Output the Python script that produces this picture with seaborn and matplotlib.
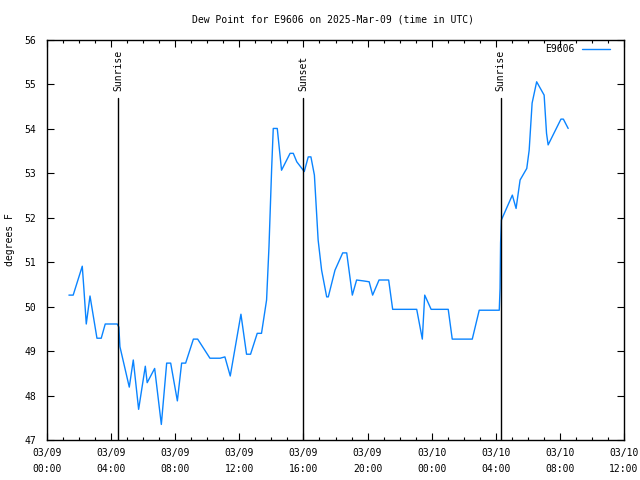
import matplotlib
matplotlib.use("Agg")
import matplotlib.pyplot as plt
import matplotlib.dates as mdates
import pandas as pd
import seaborn as sns

title = "Dew Point for E9606 on 2025-Mar-09 (time in UTC)"
station = "E9606"
ylabel = "degrees F"

times = [
    "2025-03-09 01:22", "2025-03-09 01:38", "2025-03-09 02:12", "2025-03-09 02:18",
    "2025-03-09 02:27", "2025-03-09 02:41", "2025-03-09 03:07", "2025-03-09 03:23",
    "2025-03-09 03:38", "2025-03-09 04:23", "2025-03-09 04:29", "2025-03-09 04:33",
    "2025-03-09 05:08", "2025-03-09 05:23", "2025-03-09 05:43", "2025-03-09 06:08",
    "2025-03-09 06:15", "2025-03-09 06:43", "2025-03-09 07:08", "2025-03-09 07:28",
    "2025-03-09 07:43", "2025-03-09 08:08", "2025-03-09 08:24", "2025-03-09 08:39",
    "2025-03-09 09:08", "2025-03-09 09:24", "2025-03-09 10:10", "2025-03-09 10:48",
    "2025-03-09 11:06", "2025-03-09 11:26", "2025-03-09 12:06", "2025-03-09 12:27",
    "2025-03-09 12:42", "2025-03-09 13:07", "2025-03-09 13:23", "2025-03-09 13:42",
    "2025-03-09 13:51", "2025-03-09 14:01", "2025-03-09 14:07", "2025-03-09 14:22",
    "2025-03-09 14:38", "2025-03-09 15:10", "2025-03-09 15:22", "2025-03-09 15:35",
    "2025-03-09 16:03", "2025-03-09 16:18", "2025-03-09 16:28", "2025-03-09 16:41",
    "2025-03-09 16:55", "2025-03-09 17:08", "2025-03-09 17:27", "2025-03-09 17:33",
    "2025-03-09 17:58", "2025-03-09 18:27", "2025-03-09 18:42", "2025-03-09 19:03",
    "2025-03-09 19:19", "2025-03-09 19:44", "2025-03-09 20:06", "2025-03-09 20:19",
    "2025-03-09 20:43", "2025-03-09 21:19", "2025-03-09 21:34", "2025-03-09 23:04",
    "2025-03-09 23:25", "2025-03-09 23:34", "2025-03-09 23:58", "2025-03-10 01:02",
    "2025-03-10 01:17", "2025-03-10 02:32", "2025-03-10 02:58", "2025-03-10 04:13",
    "2025-03-10 04:16", "2025-03-10 04:18", "2025-03-10 04:21", "2025-03-10 05:02",
    "2025-03-10 05:16", "2025-03-10 05:31", "2025-03-10 05:56", "2025-03-10 06:05",
    "2025-03-10 06:16", "2025-03-10 06:33", "2025-03-10 07:01", "2025-03-10 07:10",
    "2025-03-10 07:16", "2025-03-10 08:04", "2025-03-10 08:13", "2025-03-10 08:31",
]
dewpoint = [
    50.26, 50.26, 50.91, 50.41, 49.61, 50.24, 49.29, 49.29,
    49.61, 49.61, 49.54, 49.10, 48.19, 48.80, 47.69, 48.66,
    48.29, 48.61, 47.35, 48.73, 48.73, 47.88, 48.73, 48.73,
    49.27, 49.27, 48.84, 48.84, 48.87, 48.44, 49.83, 48.93,
    48.93, 49.40, 49.40, 50.15, 51.35, 53.11, 54.01, 54.01,
    53.07, 53.45, 53.45, 53.26, 53.04, 53.37, 53.37, 52.96,
    51.50, 50.82, 50.22, 50.22, 50.82, 51.21, 51.21, 50.26,
    50.60, 50.58, 50.56, 50.26, 50.60, 50.60, 49.94, 49.94,
    49.27, 50.26, 49.94, 49.94, 49.27, 49.27, 49.92, 49.92,
    50.41, 51.43, 51.95, 52.51, 52.21, 52.85, 53.11, 53.52,
    54.58, 55.06, 54.76, 53.90, 53.64, 54.22, 54.22, 54.01,
]

sun_labels = ["Sunrise", "Sunset", "Sunrise"]
sun_times = ["2025-03-09 04:26", "2025-03-09 16:00", "2025-03-10 04:19"]

x_start = "2025-03-09 00:00"
x_end = "2025-03-10 12:00"
y_min, y_max = 47, 56

df = pd.DataFrame({"time": pd.to_datetime(times), "dewpoint": dewpoint})

sns.set_theme(style="white")
plt.rcParams["font.family"] = ["DejaVu Sans Mono"]
plt.rcParams["font.size"] = 7
plt.rcParams["text.color"] = "black"
plt.rcParams["xtick.color"] = "black"
plt.rcParams["ytick.color"] = "black"
plt.rcParams["axes.labelcolor"] = "black"

fig = plt.figure(figsize=(6.4, 4.8), dpi=100)
ax = fig.add_axes([47 / 640, 40 / 480, 577 / 640, 400 / 480])

sns.lineplot(data=df, x="time", y="dewpoint", ax=ax, color="#0a84ff",
             linewidth=1.0, label=station)

for lab, t in zip(sun_labels, sun_times):
    tt = mdates.date2num(pd.Timestamp(t))
    ax.axvline(tt, ymin=0, ymax=0.855, color="black", linewidth=1.0)
    ax.text(tt, 0.872, lab, rotation=90, ha="center", va="bottom",
            transform=ax.get_xaxis_transform(), fontsize=7, color="black")

ax.set_xlim(pd.Timestamp(x_start), pd.Timestamp(x_end))
ax.set_ylim(y_min, y_max)
ax.set_yticks(range(y_min, y_max + 1))
ax.xaxis.set_major_locator(mdates.HourLocator(byhour=range(0, 24, 4)))
ax.xaxis.set_minor_locator(mdates.HourLocator())
ax.xaxis.set_major_formatter(mdates.DateFormatter("%m/%d\n%H:%M"))

ax.tick_params(axis="both", which="major", direction="in", length=5, width=0.8,
               top=True, right=True, bottom=True, left=True, labelsize=7,
               color="black", labelcolor="black")
ax.tick_params(axis="x", which="minor", direction="in", length=2.5, width=0.8,
               top=True, bottom=True, color="black")
ax.tick_params(axis="x", which="major", pad=6)
ax.tick_params(axis="y", which="major", pad=8)
for lbl in ax.get_xticklabels():
    lbl.set_linespacing(1.7)

for s in ax.spines.values():
    s.set_color("black")
    s.set_linewidth(1.0)

ax.set_xlabel("")
ax.set_ylabel("")
fig.text(10 / 640, 0.5, ylabel, rotation=90, ha="center", va="center",
         fontsize=7, color="black")
fig.text(333 / 640, 1 - 19 / 480, title, ha="center", va="center",
         fontsize=7, color="black")

leg = ax.legend(loc="upper right", frameon=False, markerfirst=False,
                bbox_to_anchor=((612 - 47) / 577, (440 - 42) / 400),
                borderaxespad=0, borderpad=0.2, handlelength=2.9, handletextpad=0.8,
                fontsize=7, labelcolor="black")

fig.savefig("out.png", dpi=100, facecolor="white")
